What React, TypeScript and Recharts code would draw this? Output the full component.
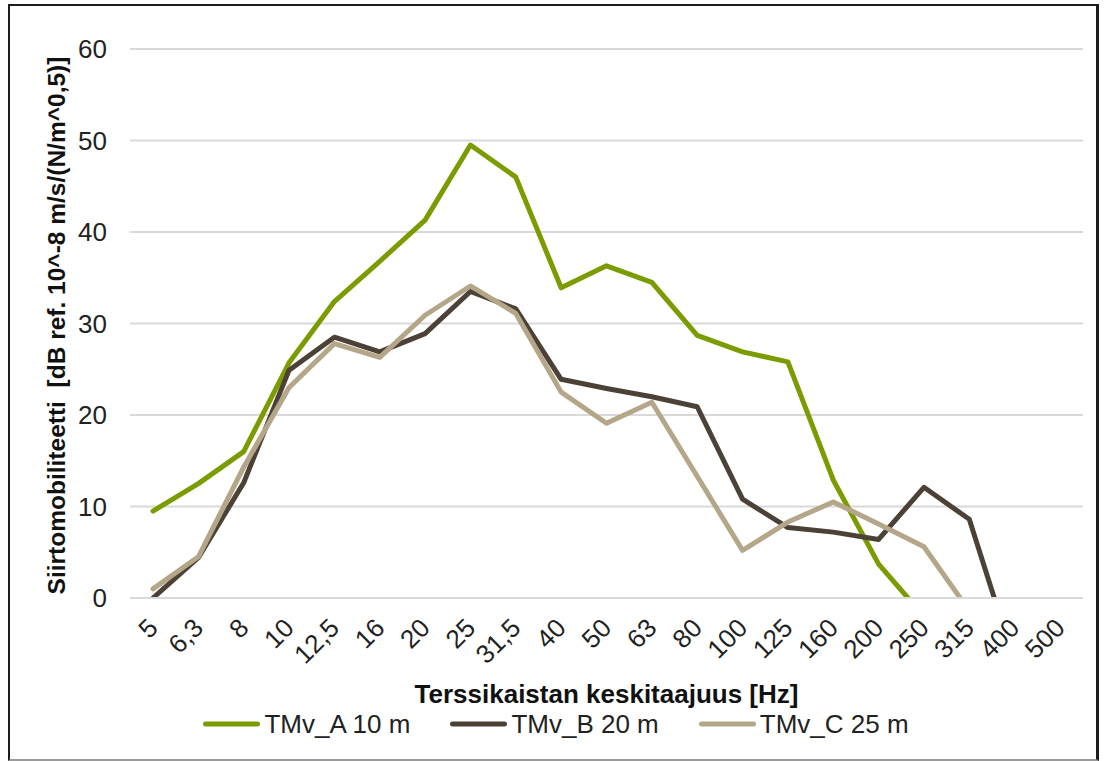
import React from 'react';
import { LineChart, Line, XAxis, YAxis, CartesianGrid, Legend, Label } from 'recharts';

const bands = ['5', '6,3', '8', '10', '12,5', '16', '20', '25', '31,5', '40', '50', '63', '80', '100', '125', '160', '200', '250', '315', '400', '500'];

// values under 0 fall outside the axis and get clipped, like in the original
const tmvA = [9.5, 12.5, 16.0, 25.7, 32.4, 36.8, 41.3, 49.5, 46.0, 33.9, 36.3, 34.5, 28.7, 26.9, 25.8, 12.9, 3.7, -2.0, -6, -10, -12];
const tmvB = [0, 4.4, 12.6, 24.9, 28.5, 26.9, 28.9, 33.5, 31.6, 23.9, 22.9, 22.0, 20.9, 10.8, 7.7, 7.2, 6.4, 12.1, 8.6, -7.0, -10];
const tmvC = [1.0, 4.5, 14.3, 23.0, 27.8, 26.3, 30.9, 34.1, 31.1, 22.5, 19.1, 21.4, 13.3, 5.2, 8.3, 10.5, 8.1, 5.6, -1.4, -6, -10];

const yTicks = [0, 10, 20, 30, 40, 50, 60];

const seriesInfo = [
  { key: 'a', name: 'TMv_A 10 m', color: '#7a9c00' },
  { key: 'b', name: 'TMv_B 20 m', color: '#4b4137' },
  { key: 'c', name: 'TMv_C 25 m', color: '#b4a688' },
];

const data = bands.map((band, i) => ({ band, a: tmvA[i], b: tmvB[i], c: tmvC[i] }));

const FONT = '"Liberation Sans", Arial, sans-serif';
const TEXT = '#222';

const BandTick = (props: any) => {
  const { x, y, payload } = props;
  const ty = y + 25;
  return (
    <text
      x={x}
      y={ty}
      dy="0.35em"
      textAnchor="end"
      transform={`rotate(-45 ${x} ${ty})`}
      fontSize={26}
      fontFamily={FONT}
      fill={TEXT}
    >
      {payload.value}
    </text>
  );
};

const ChartLegend = () => (
  <div
    style={{
      display: 'flex',
      justifyContent: 'center',
      alignItems: 'center',
      width: 1104,
      paddingLeft: 8,
      boxSizing: 'border-box',
      height: 36,
      fontFamily: FONT,
      fontSize: 26,
      color: TEXT,
    }}
  >
    {seriesInfo.map((s, i) => (
      <div key={s.key} style={{ display: 'flex', alignItems: 'center', marginLeft: i ? 40 : 0 }}>
        <svg width={57} height={10} style={{ marginRight: 4 }}>
          <line x1={2.5} y1={5} x2={54.5} y2={5} stroke={s.color} strokeWidth={5} strokeLinecap="round" />
        </svg>
        <span style={{ whiteSpace: 'pre', lineHeight: '26px' }}>{s.name}</span>
      </div>
    ))}
  </div>
);

export default function App() {
  return (
    <div>
      <div
        style={{
          position: 'absolute',
          left: 8,
          top: 4,
          width: 1091,
          height: 757,
          boxSizing: 'border-box',
          borderTop: '2px solid #1c1c1c',
          borderLeft: '2px solid #1c1c1c',
          borderRight: '3px solid #1c1c1c',
          borderBottom: '2px solid #9a9a9a',
        }}
      />
      <div style={{ position: 'absolute', left: 0, top: 0 }}>
        <LineChart width={1104} height={761} data={data} margin={{ top: 49, right: 21, bottom: 19, left: 0 }}>
          <CartesianGrid horizontal vertical={false} stroke="#d9d9d9" strokeWidth={2} />
          <XAxis
            dataKey="band"
            interval={0}
            tick={<BandTick />}
            tickSize={0}
            tickMargin={0}
            axisLine={{ stroke: '#d9d9d9', strokeWidth: 2 }}
            tickLine={false}
            padding={{ left: 23, right: 23 }}
            height={108}
          >
            <Label
              content={(p: any) => {
                const vb = p.viewBox;
                return (
                  <text
                    x={vb.x + vb.width / 2}
                    y={vb.y + 105}
                    textAnchor="middle"
                    fontSize={26}
                    fontWeight="bold"
                    fontFamily={FONT}
                    fill="#111"
                  >
                    Terssikaistan keskitaajuus [Hz]
                  </text>
                );
              }}
            />
          </XAxis>
          <YAxis
            domain={[0, 60]}
            ticks={yTicks}
            allowDataOverflow
            width={130}
            axisLine={false}
            tickLine={false}
            tickSize={0}
            tickMargin={23}
            tick={{ fontSize: 26, fontFamily: FONT, fill: TEXT }}
          >
            <Label
              content={(p: any) => {
                const vb = p.viewBox;
                const cx = vb.x + 56;
                const cy = vb.y + vb.height / 2 + 2;
                return (
                  <text
                    x={cx}
                    y={cy}
                    textAnchor="middle"
                    dominantBaseline="central"
                    transform={`rotate(-90 ${cx} ${cy})`}
                    fontSize={24.5}
                    fontWeight="bold"
                    fontFamily={FONT}
                    fill="#111"
                    style={{ whiteSpace: 'pre' }}
                  >
                    {'Siirtomobiliteetti  [dB ref. 10^-8 m/s/(N/m^0,5)]'}
                  </text>
                );
              }}
            />
          </YAxis>
          <Legend verticalAlign="bottom" content={<ChartLegend />} wrapperStyle={{ left: 0, width: 1104 }} />
          {seriesInfo.map((s) => (
            <Line
              key={s.key}
              type="linear"
              dataKey={s.key}
              name={s.name}
              stroke={s.color}
              strokeWidth={5}
              strokeLinejoin="round"
              strokeLinecap="round"
              dot={false}
              activeDot={false}
              isAnimationActive={false}
            />
          ))}
        </LineChart>
      </div>
    </div>
  );
}
